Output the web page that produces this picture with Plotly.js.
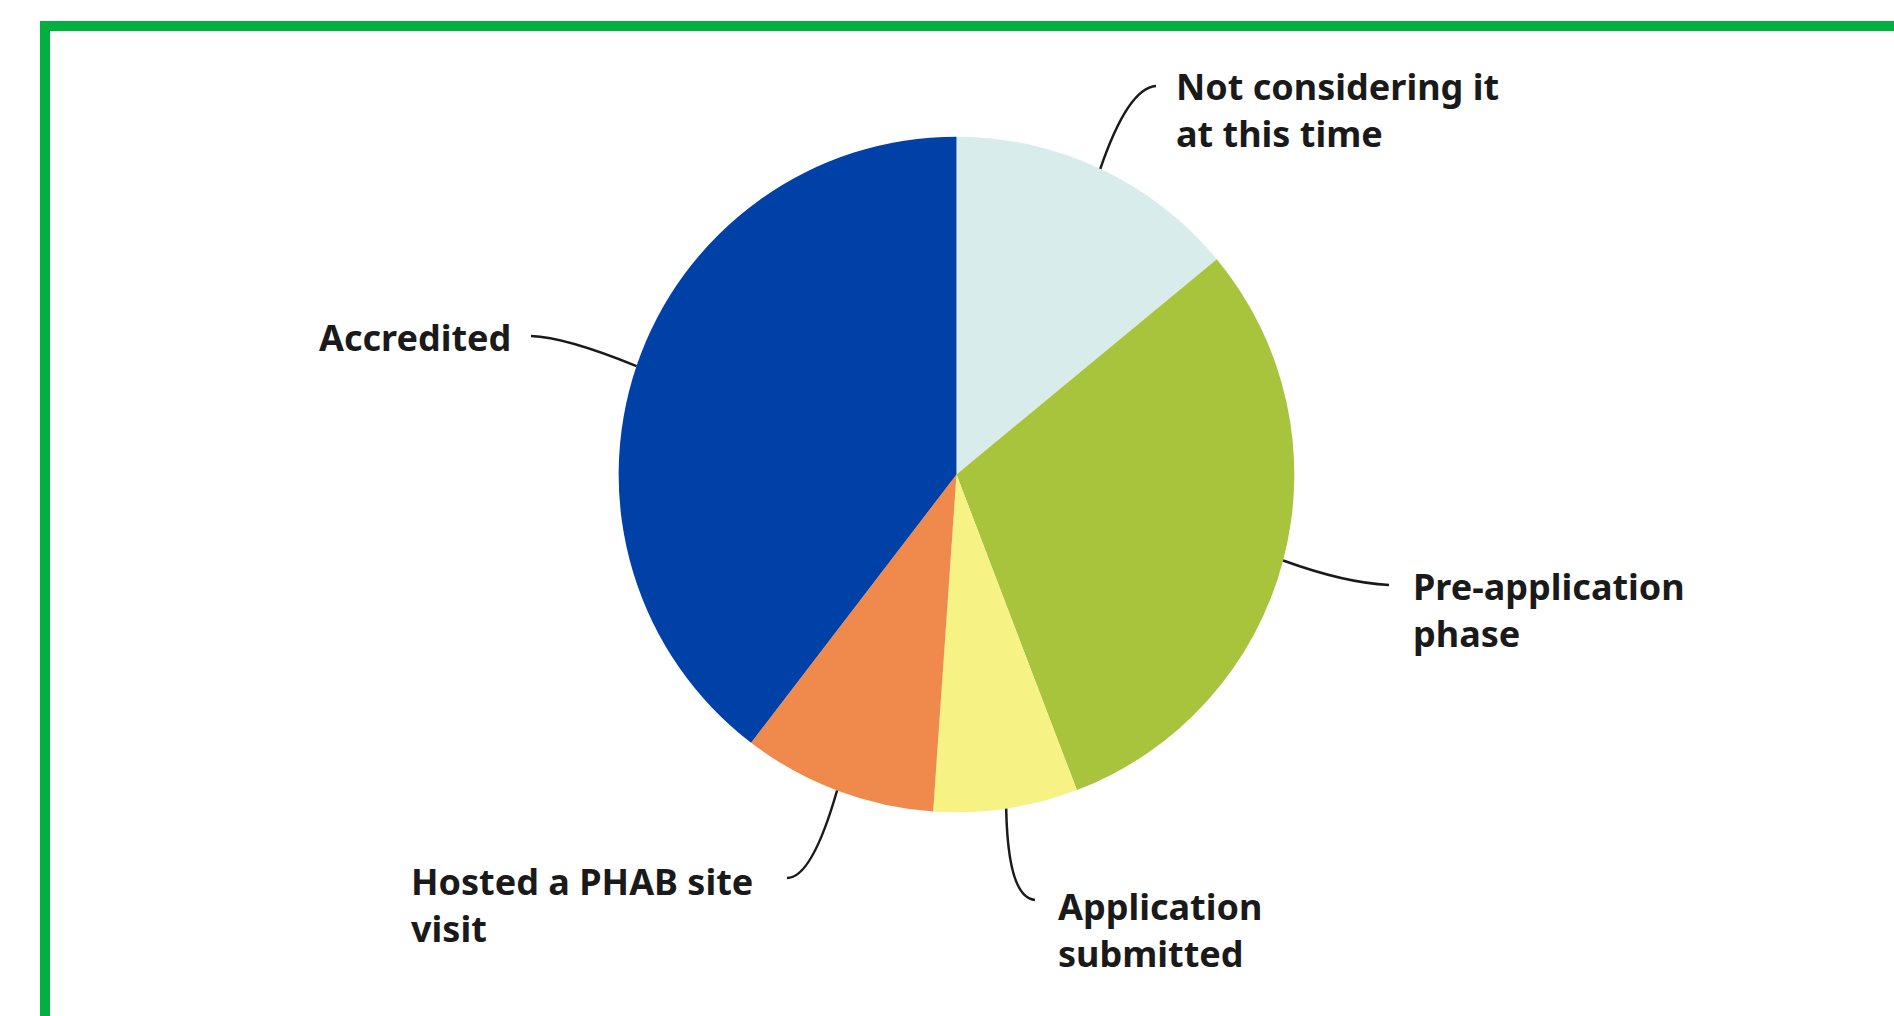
<!DOCTYPE html>
<html>
<head>
<meta charset="utf-8">
<script src="https://cdn.plot.ly/plotly-3.0.1.min.js"></script>
<style>
  html, body { margin: 0; padding: 0; background: #ffffff; }
  #chart { width: 1894px; height: 1016px; }
</style>
</head>
<body>
<div id="chart"></div>
<script>
// ---- data ----
const categories = [
  "Not considering it at this time",
  "Pre-application phase",
  "Application submitted",
  "Hosted a PHAB site visit",
  "Accredited"
];
const labelText = [
  "Not considering it<br>at this time",
  "Pre-application<br>phase",
  "Application<br>submitted",
  "Hosted a PHAB site<br>visit",
  "Accredited"
];
const shares = [14.0, 30.2, 6.9, 9.3, 39.6];
const colors = ["#d9ecec", "#a8c43c", "#f6f283", "#f08a4c", "#0041a8"];

// ---- layout constants (pixels) ----
const W = 1894, H = 1016;
const domX = [0.255, 0.755];
const domY = [0.2005, 0.8655];
// label placement: [x, yCenter, anchor side], leader end, leader control
const labelPos = [
  {x: 1174, y: 110, xa: "left",  end: [1156, 86],  ctrl: [1128, 88]},
  {x: 1411, y: 610, xa: "left",  end: [1389, 585], ctrl: [1345, 583]},
  {x: 1056, y: 930, xa: "left",  end: [1035, 900], ctrl: [1008, 898]},
  {x: 409,  y: 905, xa: "left",  end: [787, 878],  ctrl: [812, 878]},
  {x: 513,  y: 337, xa: "right", end: [531, 336],  ctrl: [565, 337]}
];

const cx = W * (domX[0] + domX[1]) / 2;
const cy = H * (1 - (domY[0] + domY[1]) / 2);
const r = H * (domY[1] - domY[0]) / 2;
const px = x => x / W;
const py = y => 1 - y / H;

const total = shares.reduce((a, b) => a + b, 0);
let cum = 0;
const shapes = [];
const annotations = [];
shares.forEach((v, i) => {
  const mid = (cum + v / 2) / total * 2 * Math.PI;
  cum += v;
  const sx = cx + r * Math.sin(mid);
  const sy = cy - r * Math.cos(mid);
  const L = labelPos[i];
  shapes.push({
    type: "path", xref: "paper", yref: "paper",
    path: `M ${px(sx)},${py(sy)} Q ${px(L.ctrl[0])},${py(L.ctrl[1])} ${px(L.end[0])},${py(L.end[1])}`,
    line: {color: "#1a1a1a", width: 2.5}
  });
  annotations.push({
    xref: "paper", yref: "paper",
    x: px(L.x), y: py(L.y),
    xanchor: L.xa, yanchor: "middle", align: "left",
    text: labelText[i], showarrow: false,
    font: {family: "Noto Sans, Open Sans, sans-serif", size: 36, color: "#1a1a1a", weight: 700}
  });
});

// green frame
shapes.push({
  type: "rect", xref: "paper", yref: "paper",
  x0: px(45), x1: px(W + 40), y0: py(H + 40), y1: py(26),
  line: {color: "#00b140", width: 10}, fillcolor: "rgba(0,0,0,0)", layer: "above"
});

const trace = {
  type: "pie",
  labels: categories,
  values: shares,
  marker: {colors: colors, line: {width: 0}},
  sort: false,
  direction: "clockwise",
  rotation: 0,
  textinfo: "none",
  hoverinfo: "skip",
  showlegend: false,
  domain: {x: domX, y: domY}
};

Plotly.newPlot("chart", [trace], {
  width: W, height: H,
  margin: {l: 0, r: 0, t: 0, b: 0},
  paper_bgcolor: "#ffffff",
  plot_bgcolor: "#ffffff",
  showlegend: false,
  shapes: shapes,
  annotations: annotations
}, {displayModeBar: false, staticPlot: true});
</script>
</body>
</html>
